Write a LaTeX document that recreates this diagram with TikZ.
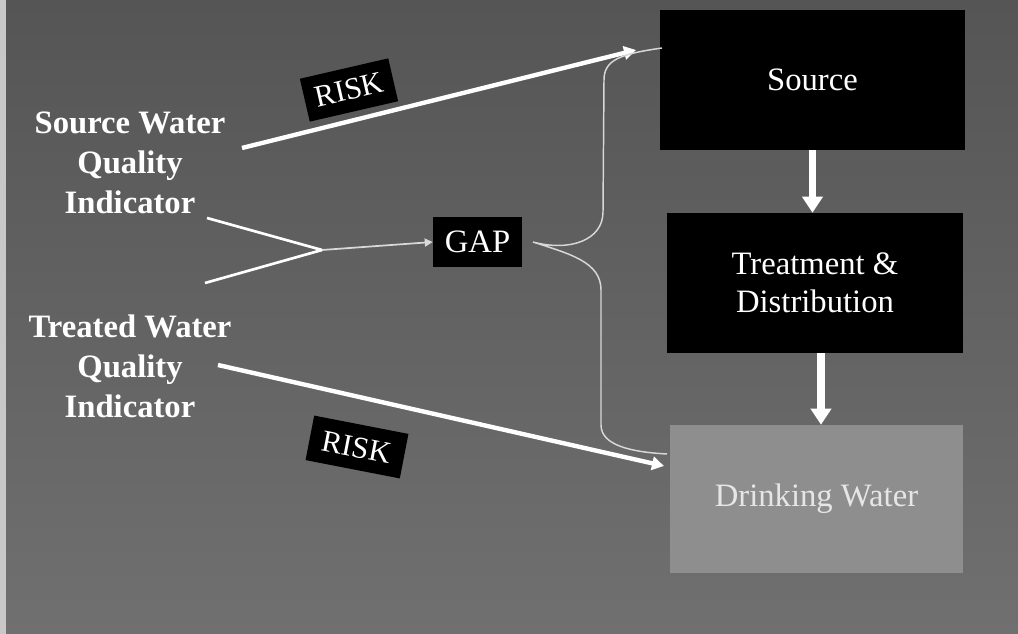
\documentclass[tikz,border=0pt]{standalone}
\usepackage{fontspec}
\setmainfont{Liberation Serif}
\usetikzlibrary{arrows.meta}
\definecolor{bgtop}{HTML}{555555}
\definecolor{bgbot}{HTML}{707070}
\definecolor{dwfill}{HTML}{8E8E8E}
\definecolor{dwtext}{HTML}{E6E6E6}
\definecolor{bracecol}{HTML}{D8D8D8}
\definecolor{stripcol}{HTML}{C8C8C8}
\tikzset{
  blackbox/.style={fill=black, draw=none, text=white, inner sep=0pt, align=center,
    font=\fontsize{24.5}{28.5}\selectfont},
  dwbox/.style={fill=dwfill, draw=none, text=dwtext, inner sep=0pt, align=center,
    font=\fontsize{24.5}{28.5}\selectfont},
  labelbox/.style={fill=black, draw=none, text=white, inner sep=0pt,
    font=\fontsize{23}{26}\selectfont},
  indtext/.style={text=white, align=center, inner sep=0pt,
    font=\bfseries\fontsize{24.5}{30}\selectfont},
  flowarrow/.style={draw=white, line width=5.5pt, -{Triangle[width=15pt,length=12pt]}},
  riskarrow/.style={draw=white, line width=3.3pt, -{Triangle[width=10pt,length=9pt]}},
  gapline/.style={draw=white, line width=2pt},
  gaparrow/.style={draw=white!85!black, line width=1.3pt, -{Triangle[width=6pt,length=6pt]}},
  bracestyle/.style={draw=bracecol, line width=1.1pt}
}
\begin{document}
\begin{tikzpicture}[x=0.75pt,y=-0.75pt]
\useasboundingbox (0,0) rectangle (1018,634);
\shade[top color=bgtop, bottom color=bgbot] (0,0) rectangle (1018,634);
\fill[stripcol] (0,0) rectangle (6,634);

% right column boxes
\node[blackbox, minimum width=228.75pt, minimum height=105pt] (src) at (812.5,80) {Source};
\node[blackbox, minimum width=222pt, minimum height=105pt] (trt) at (815,283) {Treatment \&\\Distribution};
\node[dwbox, minimum width=219.75pt, minimum height=111pt] (dw) at (816.5,499) {Drinking Water};

% indicator texts
\node[indtext] (swq) at (130,163) {Source Water\\Quality\\Indicator};
\node[indtext] (twq) at (130,366) {Treated Water\\Quality\\Indicator};

% GAP and RISK labels
\node[labelbox, font=\fontsize{24.5}{28}\selectfont, minimum width=66.75pt, minimum height=37.5pt] (gap) at (477.5,242) {GAP};
\node[labelbox, minimum width=68pt, minimum height=33pt, rotate=13] (risk1) at (349,90) {RISK};
\node[labelbox, minimum width=72pt, minimum height=34pt, rotate=-11] (risk2) at (357,447) {RISK};

% coordinates
\coordinate (r1s) at (242,148);
\coordinate (r1e) at (636,50);
\coordinate (r2s) at (218,365);
\coordinate (r2e) at (664,466);
\coordinate (g1) at (207,218);
\coordinate (g2) at (205,283);
\coordinate (gj) at (322,250);

% flow arrows
\draw[flowarrow] (src.south) -- (src.south |- trt.north);
\draw[flowarrow] ([xshift=4.5pt]trt.south) -- ([xshift=4.5pt]trt.south |- dw.north);

% risk arrows
\draw[riskarrow] (r1s) -- (r1e);
\draw[riskarrow] (r2s) -- (r2e);

% gap inputs
\draw[gapline] (g1) -- (gj);
\draw[gapline] (g2) -- (gj);
\draw[gaparrow] (gj) -- (gap.west);

% brace
\coordinate (btop) at (662,48);
\coordinate (bbot) at (667,454);
\coordinate (btip) at ([xshift=8pt]gap.east);
\draw[bracestyle] (btop) .. controls (620,54) and (604,60) .. (604,80)
  -- (603,212) .. controls (603,240) and (570,252) .. (btip)
  .. controls (570,254) and (601,262) .. (601,290)
  -- (601,425) .. controls (601,445) and (630,452) .. (bbot);
\end{tikzpicture}
\end{document}
